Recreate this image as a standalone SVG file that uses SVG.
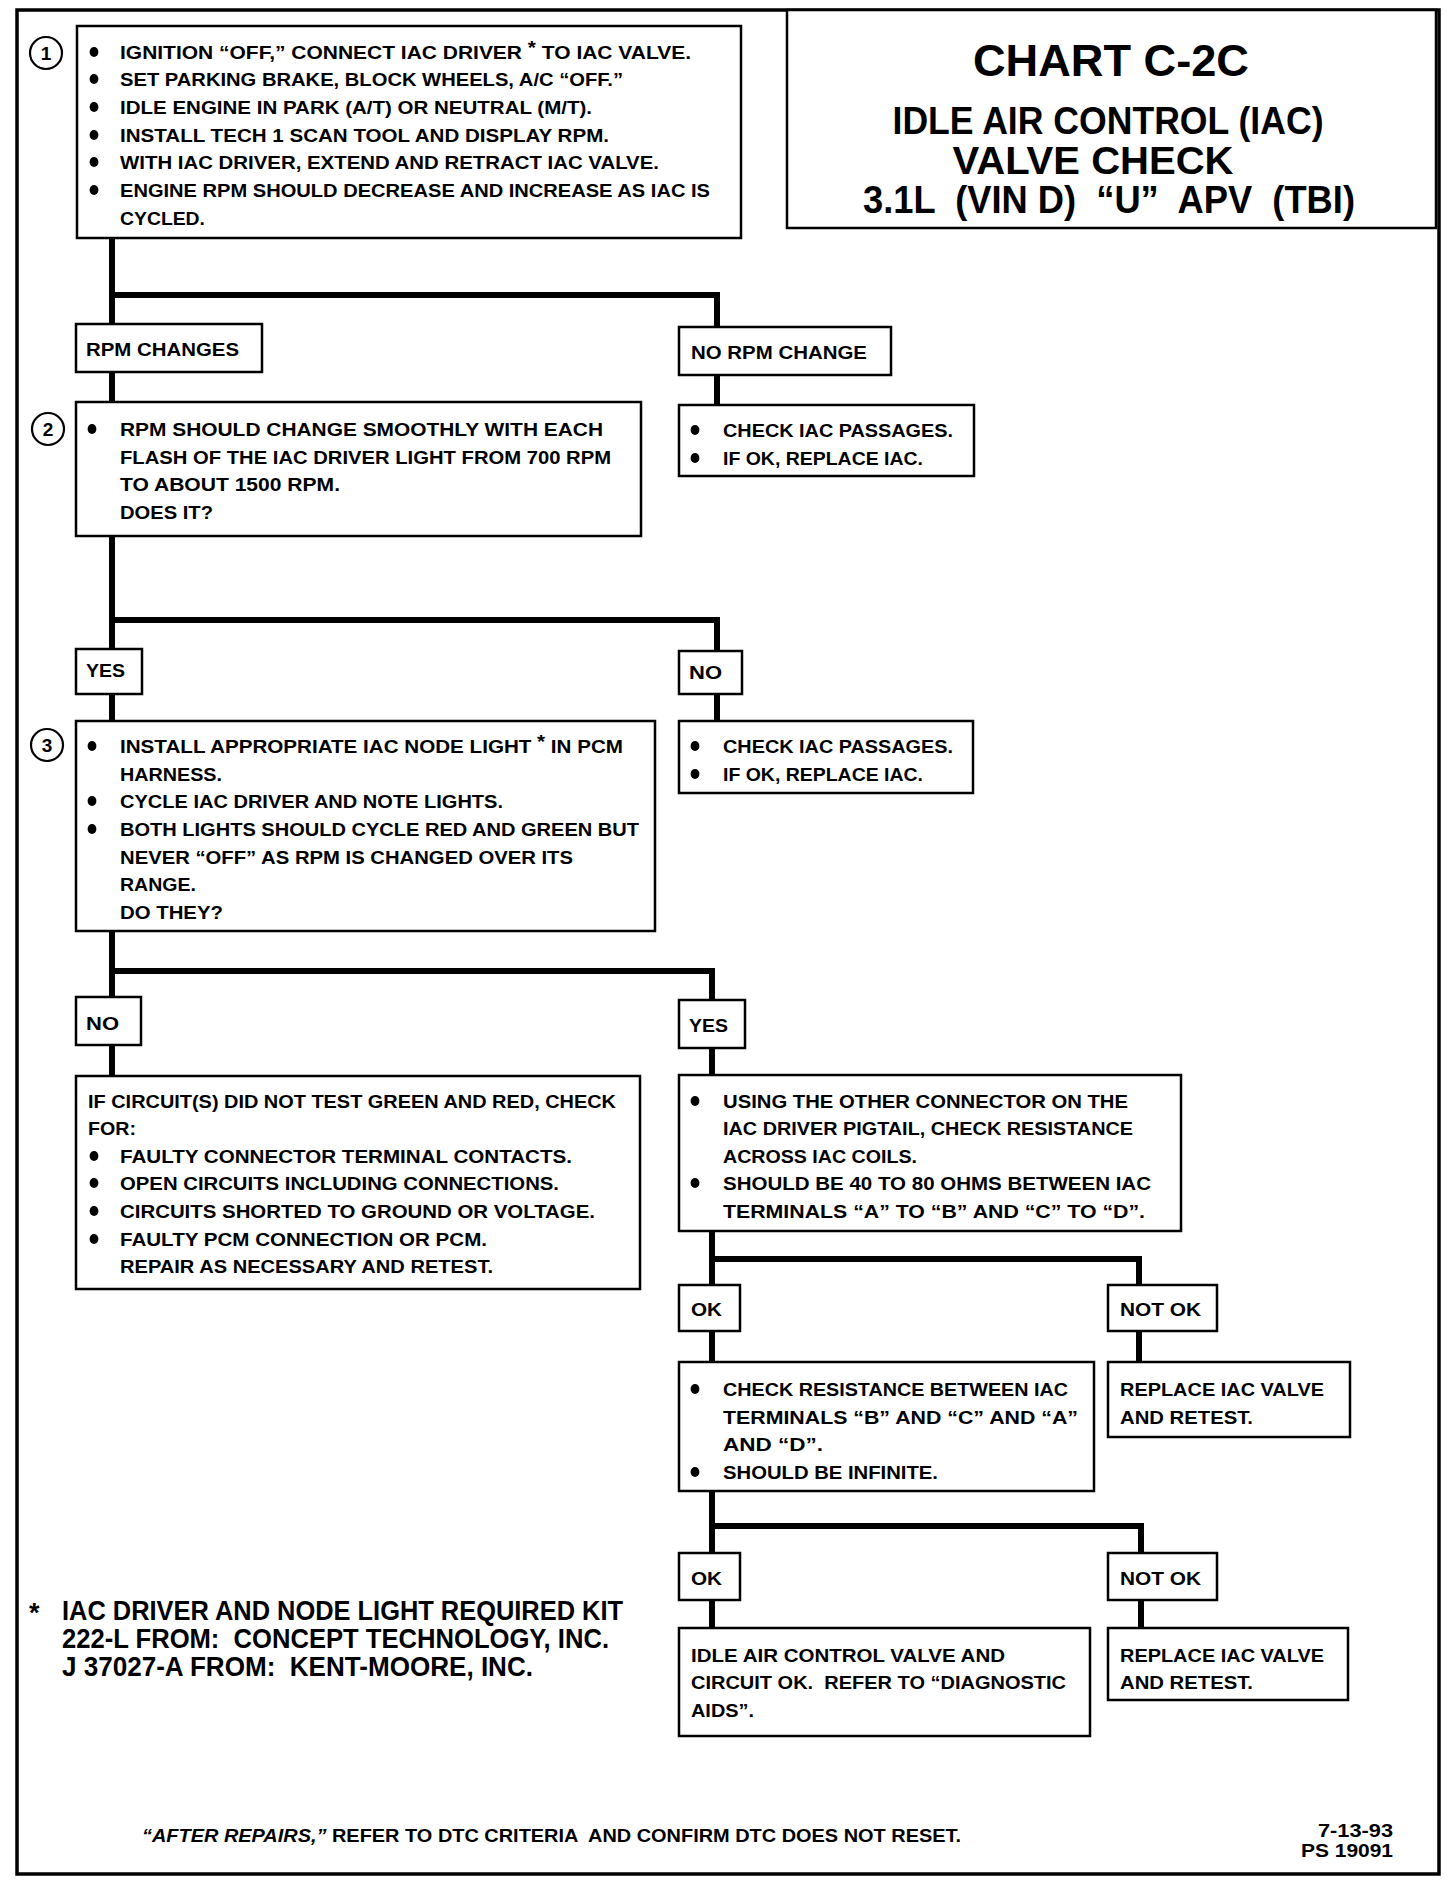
<svg xmlns="http://www.w3.org/2000/svg" width="1456" height="1884" viewBox="0 0 1456 1884" xml:space="preserve">
<style>
.box{fill:#fff;stroke:#000;stroke-width:2.5}
.conn{fill:none;stroke:#000;stroke-width:6;stroke-linejoin:miter;stroke-linecap:butt}
text{white-space:pre}
.t{font-family:"Liberation Sans",Arial,sans-serif;font-weight:bold;font-size:19px;fill:#000}
.ti{font-family:"Liberation Sans",Arial,sans-serif;font-weight:bold;fill:#000;text-anchor:middle}
.fn{font-family:"Liberation Sans",Arial,sans-serif;font-weight:bold;font-size:27px;fill:#000}
.num{font-family:"Liberation Sans",Arial,sans-serif;font-weight:bold;font-size:19px;fill:#000;text-anchor:middle}
.circ{fill:#fff;stroke:#000;stroke-width:2.2}
</style>
<defs>
<ellipse id="bul" rx="4.4" ry="5" fill="#000"/>
</defs>
<rect width="1456" height="1884" fill="#fff"/>
<rect x="17" y="10" width="1422" height="1864" fill="none" stroke="#000" stroke-width="3.5"/>

<g id="connectors">
<path class="conn" d="M112,238 V324 M112,295 H717 V327"/>
<path class="conn" d="M112,372 V402"/>
<path class="conn" d="M717,375 V405"/>
<path class="conn" d="M112,536 V649 M112,620 H717 V651"/>
<path class="conn" d="M112,694 V721"/>
<path class="conn" d="M717,694 V721"/>
<path class="conn" d="M112,931 V997 M112,971 H712 V1000"/>
<path class="conn" d="M112,1045 V1076"/>
<path class="conn" d="M712,1048 V1075"/>
<path class="conn" d="M712,1231 V1285 M712,1259 H1139 V1285"/>
<path class="conn" d="M712,1331 V1362"/>
<path class="conn" d="M1139,1331 V1362"/>
<path class="conn" d="M712,1491 V1553 M712,1526 H1141 V1553"/>
<path class="conn" d="M712,1600 V1628"/>
<path class="conn" d="M1141,1600 V1628"/>
</g>

<g id="title">
<rect x="787" y="10" width="649" height="218" fill="#fff" stroke="#000" stroke-width="2.5"/>
<text class="ti" x="1111" y="76" font-size="45" textLength="276" lengthAdjust="spacingAndGlyphs">CHART C-2C</text>
<text class="ti" x="1108" y="134" font-size="38" textLength="431" lengthAdjust="spacingAndGlyphs">IDLE AIR CONTROL (IAC)</text>
<text class="ti" x="1093" y="174" font-size="38" textLength="281" lengthAdjust="spacingAndGlyphs">VALVE CHECK</text>
<text class="ti" x="1109" y="213" font-size="38" textLength="492" lengthAdjust="spacingAndGlyphs">3.1L  (VIN D)  “U”  APV  (TBI)</text>
</g>

<g id="step1">
<circle class="circ" cx="46" cy="53" r="16"/>
<text class="num" x="46" y="60">1</text>
<rect class="box" x="77" y="26" width="664" height="212"/>
<use href="#bul" x="94" y="52"/><use href="#bul" x="94" y="79"/><use href="#bul" x="94" y="107"/><use href="#bul" x="94" y="135"/><use href="#bul" x="94" y="162"/><use href="#bul" x="94" y="190"/>
<text class="t" x="120" y="59" textLength="571" lengthAdjust="spacingAndGlyphs">IGNITION “OFF,” CONNECT IAC DRIVER <tspan dy="-5">*</tspan><tspan dy="5"> TO IAC VALVE.</tspan></text>
<text class="t" x="120" y="86" textLength="503" lengthAdjust="spacingAndGlyphs">SET PARKING BRAKE, BLOCK WHEELS, A/C “OFF.”</text>
<text class="t" x="120" y="114" textLength="472" lengthAdjust="spacingAndGlyphs">IDLE ENGINE IN PARK (A/T) OR NEUTRAL (M/T).</text>
<text class="t" x="120" y="142" textLength="489" lengthAdjust="spacingAndGlyphs">INSTALL TECH 1 SCAN TOOL AND DISPLAY RPM.</text>
<text class="t" x="120" y="169" textLength="539" lengthAdjust="spacingAndGlyphs">WITH IAC DRIVER, EXTEND AND RETRACT IAC VALVE.</text>
<text class="t" x="120" y="197" textLength="590" lengthAdjust="spacingAndGlyphs">ENGINE RPM SHOULD DECREASE AND INCREASE AS IAC IS</text>
<text class="t" x="120" y="225" textLength="85" lengthAdjust="spacingAndGlyphs">CYCLED.</text>
</g>

<g id="rpm-changes">
<rect class="box" x="76" y="324" width="186" height="48"/>
<text class="t" x="86" y="356" textLength="153" lengthAdjust="spacingAndGlyphs">RPM CHANGES</text>
</g>
<g id="no-rpm-change">
<rect class="box" x="679" y="327" width="212" height="48"/>
<text class="t" x="691" y="359" textLength="176" lengthAdjust="spacingAndGlyphs">NO RPM CHANGE</text>
</g>

<g id="step2">
<circle class="circ" cx="48" cy="429" r="16"/>
<text class="num" x="48" y="436">2</text>
<rect class="box" x="76" y="402" width="565" height="134"/>
<use href="#bul" x="92" y="429"/>
<text class="t" x="120" y="436" textLength="483" lengthAdjust="spacingAndGlyphs">RPM SHOULD CHANGE SMOOTHLY WITH EACH</text>
<text class="t" x="120" y="464" textLength="491" lengthAdjust="spacingAndGlyphs">FLASH OF THE IAC DRIVER LIGHT FROM 700 RPM</text>
<text class="t" x="120" y="491" textLength="220" lengthAdjust="spacingAndGlyphs">TO ABOUT 1500 RPM.</text>
<text class="t" x="120" y="519" textLength="93" lengthAdjust="spacingAndGlyphs">DOES IT?</text>
</g>

<g id="check-passages-1">
<rect class="box" x="679" y="405" width="295" height="71"/>
<use href="#bul" x="695" y="430"/><use href="#bul" x="695" y="458"/>
<text class="t" x="723" y="437" textLength="230" lengthAdjust="spacingAndGlyphs">CHECK IAC PASSAGES.</text>
<text class="t" x="723" y="465" textLength="200" lengthAdjust="spacingAndGlyphs">IF OK, REPLACE IAC.</text>
</g>

<g id="yes-1">
<rect class="box" x="76" y="649" width="66" height="45"/>
<text class="t" x="86" y="677" textLength="39" lengthAdjust="spacingAndGlyphs">YES</text>
</g>
<g id="no-1">
<rect class="box" x="679" y="651" width="63" height="43"/>
<text class="t" x="689" y="679" textLength="33" lengthAdjust="spacingAndGlyphs">NO</text>
</g>

<g id="step3">
<circle class="circ" cx="47" cy="745" r="16"/>
<text class="num" x="47" y="752">3</text>
<rect class="box" x="76" y="721" width="579" height="210"/>
<use href="#bul" x="92" y="746"/><use href="#bul" x="92" y="801"/><use href="#bul" x="92" y="829"/>
<text class="t" x="120" y="753" textLength="503" lengthAdjust="spacingAndGlyphs">INSTALL APPROPRIATE IAC NODE LIGHT <tspan dy="-5">*</tspan><tspan dy="5"> IN PCM</tspan></text>
<text class="t" x="120" y="781" textLength="102" lengthAdjust="spacingAndGlyphs">HARNESS.</text>
<text class="t" x="120" y="808" textLength="383" lengthAdjust="spacingAndGlyphs">CYCLE IAC DRIVER AND NOTE LIGHTS.</text>
<text class="t" x="120" y="836" textLength="519" lengthAdjust="spacingAndGlyphs">BOTH LIGHTS SHOULD CYCLE RED AND GREEN BUT</text>
<text class="t" x="120" y="864" textLength="453" lengthAdjust="spacingAndGlyphs">NEVER “OFF” AS RPM IS CHANGED OVER ITS</text>
<text class="t" x="120" y="891" textLength="76" lengthAdjust="spacingAndGlyphs">RANGE.</text>
<text class="t" x="120" y="919" textLength="103" lengthAdjust="spacingAndGlyphs">DO THEY?</text>
</g>

<g id="check-passages-2">
<rect class="box" x="679" y="721" width="294" height="72"/>
<use href="#bul" x="695" y="746"/><use href="#bul" x="695" y="774"/>
<text class="t" x="723" y="753" textLength="230" lengthAdjust="spacingAndGlyphs">CHECK IAC PASSAGES.</text>
<text class="t" x="723" y="781" textLength="200" lengthAdjust="spacingAndGlyphs">IF OK, REPLACE IAC.</text>
</g>

<g id="no-2">
<rect class="box" x="76" y="997" width="65" height="48"/>
<text class="t" x="86" y="1030" textLength="33" lengthAdjust="spacingAndGlyphs">NO</text>
</g>
<g id="yes-2">
<rect class="box" x="679" y="1000" width="66" height="48"/>
<text class="t" x="689" y="1032" textLength="39" lengthAdjust="spacingAndGlyphs">YES</text>
</g>

<g id="circuit-check">
<rect class="box" x="76" y="1076" width="564" height="213"/>
<use href="#bul" x="94" y="1156"/><use href="#bul" x="94" y="1183"/><use href="#bul" x="94" y="1211"/><use href="#bul" x="94" y="1239"/>
<text class="t" x="88" y="1108" textLength="528" lengthAdjust="spacingAndGlyphs">IF CIRCUIT(S) DID NOT TEST GREEN AND RED, CHECK</text>
<text class="t" x="88" y="1135" textLength="48" lengthAdjust="spacingAndGlyphs">FOR:</text>
<text class="t" x="120" y="1163" textLength="452" lengthAdjust="spacingAndGlyphs">FAULTY CONNECTOR TERMINAL CONTACTS.</text>
<text class="t" x="120" y="1190" textLength="439" lengthAdjust="spacingAndGlyphs">OPEN CIRCUITS INCLUDING CONNECTIONS.</text>
<text class="t" x="120" y="1218" textLength="475" lengthAdjust="spacingAndGlyphs">CIRCUITS SHORTED TO GROUND OR VOLTAGE.</text>
<text class="t" x="120" y="1246" textLength="367" lengthAdjust="spacingAndGlyphs">FAULTY PCM CONNECTION OR PCM.</text>
<text class="t" x="120" y="1273" textLength="373" lengthAdjust="spacingAndGlyphs">REPAIR AS NECESSARY AND RETEST.</text>
</g>

<g id="resistance-1">
<rect class="box" x="679" y="1075" width="502" height="156"/>
<use href="#bul" x="695" y="1101"/><use href="#bul" x="695" y="1183"/>
<text class="t" x="723" y="1108" textLength="405" lengthAdjust="spacingAndGlyphs">USING THE OTHER CONNECTOR ON THE</text>
<text class="t" x="723" y="1135" textLength="410" lengthAdjust="spacingAndGlyphs">IAC DRIVER PIGTAIL, CHECK RESISTANCE</text>
<text class="t" x="723" y="1163" textLength="194" lengthAdjust="spacingAndGlyphs">ACROSS IAC COILS.</text>
<text class="t" x="723" y="1190" textLength="428" lengthAdjust="spacingAndGlyphs">SHOULD BE 40 TO 80 OHMS BETWEEN IAC</text>
<text class="t" x="723" y="1218" textLength="422" lengthAdjust="spacingAndGlyphs">TERMINALS “A” TO “B” AND “C” TO “D”.</text>
</g>

<g id="ok-1">
<rect class="box" x="679" y="1285" width="61" height="46"/>
<text class="t" x="691" y="1316" textLength="31" lengthAdjust="spacingAndGlyphs">OK</text>
</g>
<g id="notok-1">
<rect class="box" x="1108" y="1285" width="109" height="46"/>
<text class="t" x="1120" y="1316" textLength="81" lengthAdjust="spacingAndGlyphs">NOT OK</text>
</g>

<g id="resistance-2">
<rect class="box" x="679" y="1362" width="415" height="129"/>
<use href="#bul" x="695" y="1389"/><use href="#bul" x="695" y="1472"/>
<text class="t" x="723" y="1396" textLength="345" lengthAdjust="spacingAndGlyphs">CHECK RESISTANCE BETWEEN IAC</text>
<text class="t" x="723" y="1424" textLength="355" lengthAdjust="spacingAndGlyphs">TERMINALS “B” AND “C” AND “A”</text>
<text class="t" x="723" y="1451" textLength="100" lengthAdjust="spacingAndGlyphs">AND “D”.</text>
<text class="t" x="723" y="1479" textLength="215" lengthAdjust="spacingAndGlyphs">SHOULD BE INFINITE.</text>
</g>

<g id="replace-1">
<rect class="box" x="1108" y="1362" width="242" height="75"/>
<text class="t" x="1120" y="1396" textLength="204" lengthAdjust="spacingAndGlyphs">REPLACE IAC VALVE</text>
<text class="t" x="1120" y="1424" textLength="133" lengthAdjust="spacingAndGlyphs">AND RETEST.</text>
</g>

<g id="ok-2">
<rect class="box" x="679" y="1553" width="61" height="47"/>
<text class="t" x="691" y="1585" textLength="31" lengthAdjust="spacingAndGlyphs">OK</text>
</g>
<g id="notok-2">
<rect class="box" x="1108" y="1553" width="109" height="47"/>
<text class="t" x="1120" y="1585" textLength="81" lengthAdjust="spacingAndGlyphs">NOT OK</text>
</g>

<g id="valve-ok">
<rect class="box" x="679" y="1628" width="411" height="108"/>
<text class="t" x="691" y="1662" textLength="314" lengthAdjust="spacingAndGlyphs">IDLE AIR CONTROL VALVE AND</text>
<text class="t" x="691" y="1689" textLength="375" lengthAdjust="spacingAndGlyphs">CIRCUIT OK.  REFER TO “DIAGNOSTIC</text>
<text class="t" x="691" y="1717" textLength="63" lengthAdjust="spacingAndGlyphs">AIDS”.</text>
</g>

<g id="replace-2">
<rect class="box" x="1108" y="1628" width="240" height="72"/>
<text class="t" x="1120" y="1662" textLength="204" lengthAdjust="spacingAndGlyphs">REPLACE IAC VALVE</text>
<text class="t" x="1120" y="1689" textLength="133" lengthAdjust="spacingAndGlyphs">AND RETEST.</text>
</g>

<g id="footnote">
<text class="fn" x="29" y="1622">*</text>
<text class="fn" x="62" y="1620" textLength="561" lengthAdjust="spacingAndGlyphs">IAC DRIVER AND NODE LIGHT REQUIRED KIT</text>
<text class="fn" x="62" y="1648" textLength="547" lengthAdjust="spacingAndGlyphs">222-L FROM:  CONCEPT TECHNOLOGY, INC.</text>
<text class="fn" x="62" y="1676" textLength="471" lengthAdjust="spacingAndGlyphs">J 37027-A FROM:  KENT-MOORE, INC.</text>
</g>

<g id="bottom-note">
<text class="t" x="142" y="1842" font-size="20" textLength="819" lengthAdjust="spacingAndGlyphs"><tspan font-style="italic">“AFTER REPAIRS,”</tspan> REFER TO DTC CRITERIA  AND CONFIRM DTC DOES NOT RESET.</text>
<text class="t" x="1393" y="1837" text-anchor="end" textLength="75" lengthAdjust="spacingAndGlyphs">7-13-93</text>
<text class="t" x="1393" y="1857" text-anchor="end" textLength="92" lengthAdjust="spacingAndGlyphs">PS 19091</text>
</g>
</svg>
